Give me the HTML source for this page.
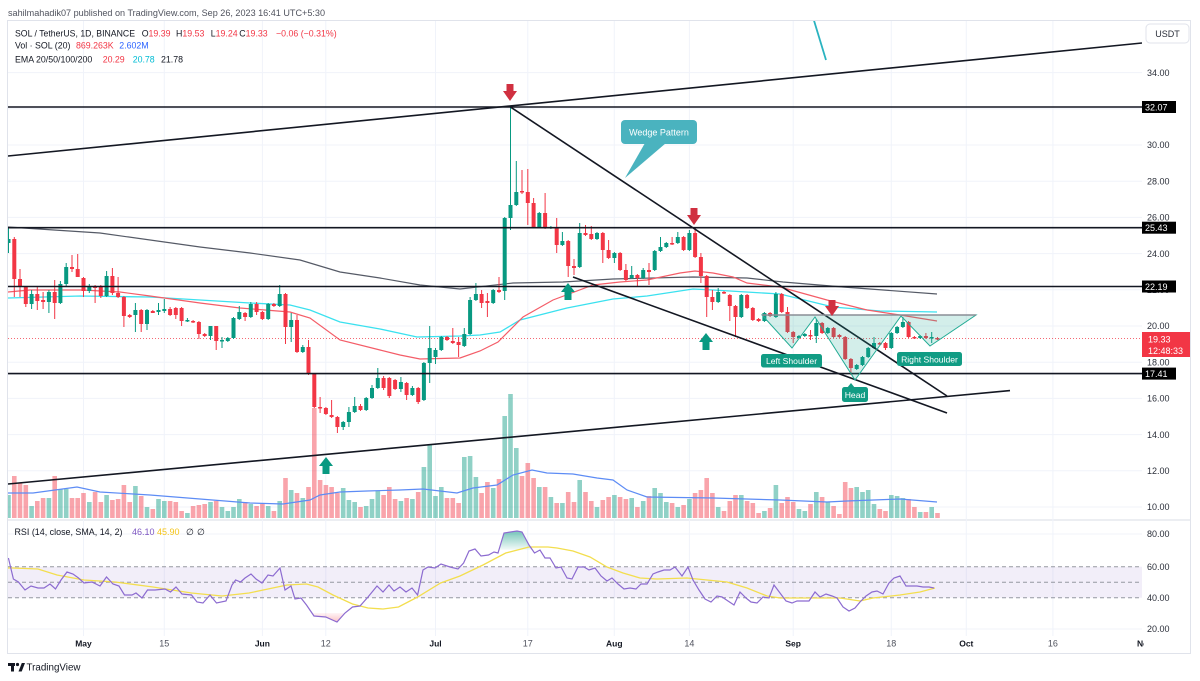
<!DOCTYPE html>
<html><head><meta charset="utf-8">
<style>
html,body{margin:0;padding:0;background:#fff;}
body{width:1200px;height:681px;overflow:hidden;}
svg{display:block;font-family:"Liberation Sans",Arial,sans-serif;}
</style></head>
<body>
<svg width="1200" height="681" viewBox="0 0 1200 681" xmlns="http://www.w3.org/2000/svg">
<defs>
<clipPath id="pc"><rect x="8" y="21" width="1134" height="498"/></clipPath>
<clipPath id="rc"><rect x="8" y="521" width="1134" height="115"/></clipPath>
<clipPath id="tc"><rect x="8" y="636" width="1136" height="17"/></clipPath>
<linearGradient id="gg" x1="0" y1="0" x2="0" y2="1"><stop offset="0" stop-color="#089981" stop-opacity=".55"/><stop offset="1" stop-color="#089981" stop-opacity=".05"/></linearGradient>
<linearGradient id="rg" x1="0" y1="0" x2="0" y2="1"><stop offset="0" stop-color="#f23645" stop-opacity=".05"/><stop offset="1" stop-color="#f23645" stop-opacity=".3"/></linearGradient>
</defs>
<rect width="1200" height="681" fill="#fff"/>

<text x="8" y="16" font-size="9.2" fill="#50535e" textLength="317" lengthAdjust="spacingAndGlyphs">sahilmahadik07 published on TradingView.com, Sep 26, 2023 16:41 UTC+5:30</text>

<rect x="7.5" y="20.5" width="1183" height="633" fill="#fff" stroke="#e0e3eb" stroke-width="1"/>
<line x1="8" y1="520" x2="1190" y2="520" stroke="#e0e3eb" stroke-width="1.2"/>

<g stroke="#f0f3fa" stroke-width="1">
<line x1="83.5" y1="21" x2="83.5" y2="636"/><line x1="164.3" y1="21" x2="164.3" y2="636"/>
<line x1="262.4" y1="21" x2="262.4" y2="636"/><line x1="325.8" y1="21" x2="325.8" y2="636"/>
<line x1="435.5" y1="21" x2="435.5" y2="636"/><line x1="527.8" y1="21" x2="527.8" y2="636"/>
<line x1="614.3" y1="21" x2="614.3" y2="636"/><line x1="689.4" y1="21" x2="689.4" y2="636"/>
<line x1="793.2" y1="21" x2="793.2" y2="636"/><line x1="891.3" y1="21" x2="891.3" y2="636"/>
<line x1="966.3" y1="21" x2="966.3" y2="636"/><line x1="1052.9" y1="21" x2="1052.9" y2="636"/>
<line x1="8" y1="72.6" x2="1142" y2="72.6"/><line x1="8" y1="108.8" x2="1142" y2="108.8"/>
<line x1="8" y1="145" x2="1142" y2="145"/><line x1="8" y1="181.2" x2="1142" y2="181.2"/>
<line x1="8" y1="217.4" x2="1142" y2="217.4"/><line x1="8" y1="253.6" x2="1142" y2="253.6"/>
<line x1="8" y1="289.8" x2="1142" y2="289.8"/><line x1="8" y1="326" x2="1142" y2="326"/>
<line x1="8" y1="362.2" x2="1142" y2="362.2"/><line x1="8" y1="398.4" x2="1142" y2="398.4"/>
<line x1="8" y1="434.6" x2="1142" y2="434.6"/><line x1="8" y1="470.8" x2="1142" y2="470.8"/>
<line x1="8" y1="507" x2="1142" y2="507"/>
<line x1="8" y1="534" x2="1142" y2="534"/><line x1="8" y1="629" x2="1142" y2="629"/>
</g>

<g clip-path="url(#pc)">
<!-- volume -->
<path fill="none" stroke="rgba(8,153,129,0.45)" stroke-width="4.6" d="M8.5 495V518M31.6 506V518M48.9 498V518M60.4 489V518M66.2 489V518M89.3 502V518M106.6 495V518M135.4 486V518M147 507V518M158.5 499V518M164.3 501V518M187.4 513V518M210.5 502V518M222 507V518M227.8 511V518M233.5 507V518M239.3 499V518M250.8 504V518M268.2 506V518M279.7 501V518M291.2 490V518M302.8 498V518M343.2 488V518M348.9 500V518M354.7 502V518M366.2 506V518M372 499V518M377.8 491V518M400.9 501V518M412.4 499V518M423.9 467V518M429.7 445V518M435.5 496V518M441.3 487V518M464.3 457V518M470.1 456V518M475.9 477V518M493.2 488V518M504.7 416V518M510.5 394V518M516.3 448V518M539.3 487V518M550.9 497V518M562.4 503V518M579.7 480V518M597 507V518M614.4 495V518M631.7 498V518M643.2 501V518M654.7 488V518M660.5 493V518M666.3 502V518M677.8 507V518M689.4 499V518M718.2 507V518M741.3 495V518M764.4 511V518M775.9 485V518M799 509V518M804.8 511V518M816.3 492V518M827.8 502V518M856.7 487V518M862.5 492V518M868.2 490V518M874 504V518M891.3 495V518M897.1 496V518M902.9 498V518M920.2 512V518M931.7 507V518"/>
<path fill="none" stroke="rgba(242,54,69,0.45)" stroke-width="4.6" d="M14.3 476V518M20 483V518M25.8 485V518M37.3 501V518M43.1 498V518M54.7 476V518M72 498V518M77.7 498V518M83.5 493V518M95.1 492V518M100.8 502V518M112.4 500V518M118.1 499V518M123.9 485V518M129.7 502V518M141.2 496V518M152.8 509V518M170.1 501V518M175.8 502V518M181.6 511V518M193.1 506V518M198.9 505V518M204.7 504V518M216.2 501V518M245.1 502V518M256.6 506V518M262.4 504V518M273.9 511V518M285.5 478V518M297 493V518M308.5 487V518M314.3 408V518M320.1 480V518M325.9 485V518M331.6 487V518M337.4 493V518M360.5 507V518M383.6 495V518M389.3 487V518M395.1 499V518M406.6 498V518M418.2 492V518M447 498V518M452.8 498V518M458.6 503V518M481.6 493V518M487.4 482V518M499 479V518M522 476V518M527.8 463V518M533.6 478V518M545.1 487V518M556.7 503V518M568.2 492V518M574 502V518M585.5 492V518M591.3 501V518M602.8 500V518M608.6 497V518M620.1 497V518M625.9 499V518M637.4 507V518M649 496V518M672.1 503V518M683.6 505V518M695.1 493V518M700.9 490V518M706.7 478V518M712.4 493V518M724 511V518M729.8 501V518M735.5 495V518M747.1 501V518M752.8 503V518M758.6 513V518M770.1 508V518M781.7 503V518M787.5 497V518M793.2 502V518M810.5 504V518M822.1 497V518M833.6 506V518M839.4 514V518M845.2 482V518M850.9 488V518M879.8 509V518M885.5 511V518M908.6 499V518M914.4 507V518M925.9 512V518M937.5 513V518"/>
<polyline fill="none" stroke="#5d8cf5" stroke-width="1.2" points="8,493 33,493 77,487 100,492 150,495 200,499 250,503 283,504 310,500 320,495 340,492 367,491 400,490 423,489 457,493 473,488 497,485 513,475 532,470 547,473 573,474 597,478 613,480 627,490 647,497 713,498 780,500 827,502 847,501 900,499 937,502"/>
<!-- EMAs -->
<polyline fill="none" stroke="#555a66" stroke-width="1.2" points="8,227 100,233 200,247 250,253 300,260 340,272 380,278 420,285 460,289 513,283 563,282 613,279 693,277 747,278 783,282 843,287 937,294"/>
<polyline fill="none" stroke="#3be1ef" stroke-width="1.3" points="8,298 80,296 150,297 250,303 290,305 310,310 340,322 380,329 417,337 460,336 480,335 500,332 520,320 567,308 613,299 647,296 693,289 713,290 780,294 833,307 880,311 937,312"/>
<polyline fill="none" stroke="#f45d68" stroke-width="1.2" points="8,292 30,290 82,290 120,292 150,296 200,303 240,308 290,312 310,318 340,340 380,350 400,355 420,359 460,358 480,351 498,342 523,317 553,300 593,285 620,282 647,280 680,273 695,271 713,273 733,277 747,283 780,287 827,300 867,310 900,315 937,321"/>
<line x1="8" y1="338.5" x2="1142" y2="338.5" stroke="#f23645" stroke-width="1" stroke-dasharray="1 2" opacity=".75"/>

<!-- candles: wicks -->
<path fill="none" stroke="#089981" stroke-width="1" d="M8.5 228V253M31.6 290V309M48.9 290V313M60.4 281V304M66.2 263V287M89.3 284V293M106.6 271V297M135.4 303V332M147 309V330M158.5 303V315M164.3 299V313M187.4 318V322M210.5 326V340M222 337V348M227.8 337V342M233.5 317V339M239.3 306V320M250.8 302V318M268.2 303V320M279.7 285V307M291.2 313V342M302.8 345V353M343.2 421V430M348.9 407V427M354.7 397V413M366.2 397V411M372 385V399M377.8 368V389M400.9 377V392M412.4 386V396M423.9 362V401M429.7 326V383M435.5 348V364M441.3 336V351M464.3 328V347M470.1 297V335M475.9 283V301M493.2 289V304M504.7 217V300M510.5 107V230M516.3 161V206M539.3 212V228M550.9 226V229M562.4 232V246M579.7 223V268M597 232V240M614.4 252V263M631.7 266V279M643.2 268V279M654.7 250V271M660.5 237V252M666.3 242V248M677.8 232V244M689.4 230V251M718.2 288V303M741.3 294V318M764.4 312V322M775.9 292V318M799 335V339M804.8 333V337M816.3 319V343M827.8 327V334M856.7 364V370M862.5 356V366M868.2 347V358M874 337V349M891.3 332V349M897.1 326V334M902.9 317V328M920.2 335V339M931.7 332V343"/>
<path fill="none" stroke="#f23645" stroke-width="1" d="M14.3 237V297M20 269V297M25.8 286V307M37.3 287V310M43.1 292V309M54.7 280V319M72 255V272M77.7 254V277M83.5 277V297M95.1 285V303M100.8 285V298M112.4 268V295M118.1 277V298M123.9 296V327M129.7 314V318M141.2 309V332M152.8 310V313M170.1 307V316M175.8 307V319M181.6 307V326M193.1 320V323M198.9 321V339M204.7 333V337M216.2 326V350M245.1 312V321M256.6 302V315M262.4 311V320M273.9 303V307M285.5 293V344M297 315V353M308.5 340V375M314.3 373V408M320.1 397V413M325.9 407V415M331.6 400V418M337.4 416V433M360.5 404V411M383.6 376V390M389.3 377V398M395.1 379V390M406.6 382V400M418.2 387V404M447 336V341M452.8 328V344M458.6 337V357M481.6 290V308M487.4 293V317M499 277V293M522 170V194M527.8 169V225M533.6 198V228M545.1 193V229M556.7 218V253M568.2 240V277M574 259V275M585.5 225V236M591.3 226V240M602.8 232V263M608.6 240V259M620.1 252V271M625.9 264V281M637.4 274V287M649 263V285M672.1 237V245M683.6 236V251M695.1 228V258M700.9 253V283M706.7 275V317M712.4 290V310M724 291V294M729.8 294V321M735.5 305V337M747.1 294V309M752.8 307V321M758.6 318V322M770.1 312V317M781.7 293V313M787.5 307V333M793.2 331V343M810.5 330V340M822.1 322V334M833.6 327V338M839.4 334V338M845.2 336V360M850.9 358V375M879.8 342V345M885.5 342V350M908.6 321V338M914.4 336V339M925.9 333V339M937.5 337V340"/>
<!-- candles: bodies -->
<path fill="none" stroke="#089981" stroke-width="4" d="M8.5 239V243M31.6 294V304M48.9 292V302M60.4 284V303M66.2 267V284M89.3 286V291M106.6 276V296M135.4 310V315M147 310V324M158.5 310V312M164.3 309V311M187.4 320V321.5M210.5 326V336M222 340V341.5M227.8 338V341M233.5 318V338M239.3 312V319M250.8 304V317M268.2 304V319M279.7 294V306M291.2 320V327M302.8 347V352M343.2 422V427M348.9 412V422M354.7 406V412M366.2 398V410M372 388V398M377.8 378V388M400.9 382V389M412.4 388V395M423.9 363V400M429.7 348V363M435.5 350V357M441.3 337V350M464.3 334V346M470.1 300V334M475.9 294V300M493.2 290V303M504.7 218V291M510.5 205V218M516.3 192V205M539.3 213V227M550.9 227V228.5M562.4 241V245M579.7 233V267M597 233V239M614.4 253V258M631.7 275V278M643.2 270V278M654.7 251V270M660.5 247V251M666.3 243V247M677.8 237V243M689.4 233V250M718.2 292V302M741.3 295V317M764.4 313V321M775.9 294V317M799 336V338M804.8 334V336M816.3 323V336M827.8 328V333M856.7 365V369M862.5 357V365M868.2 348V357M874 343V348M891.3 333V348M897.1 327V333M902.9 322V327M920.2 336V338M931.7 337V338.5"/>
<path fill="none" stroke="#f23645" stroke-width="4" d="M14.3 239V279M20 279V286M25.8 287V304M37.3 294V301M43.1 300V302M54.7 292V303M72 267V269M77.7 269V277M83.5 278V291M95.1 286V288M100.8 287V296M112.4 276V293M118.1 293V297M123.9 297V316M129.7 315V317M141.2 310V324M152.8 311V313M170.1 309V315M175.8 308V315M181.6 308V321M193.1 321V322.5M198.9 322V334M204.7 334V336M216.2 326V341M245.1 313V317M256.6 304V312M262.4 312V319M273.9 304V306M285.5 294V327M297 320V352M308.5 347V374M314.3 374V407M320.1 407V408.5M325.9 408V414M331.6 415V417M337.4 417V427M360.5 406V410M383.6 378V388M389.3 378V396M395.1 380V389M406.6 383V395M418.2 388V402M447 337V340M452.8 341V343M458.6 342V345M481.6 294V303M487.4 301V303M499 290V292M522 191V192.5M527.8 192V203M533.6 203V227M545.1 213V228M556.7 227V245M568.2 241V266M574 266V268M585.5 233V235M591.3 234V239M602.8 233V250M608.6 250V258M620.1 253V270M625.9 270V280M637.4 275V278M649 270V272M672.1 243V244.5M683.6 237V250M695.1 233V257M700.9 257V276M706.7 276V297M712.4 297V302M724 292V293.5M729.8 295V306M735.5 306V317M747.1 295V308M752.8 308V320M758.6 319V321M770.1 313V316M781.7 294V312M787.5 312V332M793.2 332V337M810.5 335V336.5M822.1 323V333M833.6 328V337M839.4 335V337M845.2 337V359M850.9 359V368M879.8 343V344.5M885.5 343V348M908.6 322V337M914.4 337V338.5M925.9 336V338M937.5 338V339.5"/>

<g stroke="#131722" stroke-width="1.6">
<line x1="8" y1="107" x2="1142" y2="107"/>
<line x1="8" y1="227.7" x2="1142" y2="227.7"/>
<line x1="8" y1="286.5" x2="1142" y2="286.5"/>
<line x1="8" y1="373.6" x2="1142" y2="373.6"/>
<line x1="8" y1="156" x2="1142" y2="43"/>
<line x1="8" y1="484" x2="1010" y2="390.6"/>
<line x1="510" y1="106.7" x2="947" y2="396"/>
<line x1="573" y1="277" x2="947" y2="413"/>
</g>

<path d="M762,315 L792,348 L815,317 L855,380 L901,316 L930,346 L976,315 Z" fill="rgba(34,171,148,0.2)" stroke="#22ab94" stroke-width="1"/>
<line x1="762" y1="315" x2="976" y2="315" stroke="#8a8d96" stroke-width="1.4"/>

<line x1="812" y1="14" x2="826" y2="60" stroke="#2ab3c0" stroke-width="1.8"/>

<g fill="#d03040">
<rect x="506.5" y="84" width="7" height="8"/><polygon points="503,91 517,91 510,101"/>
<rect x="690.5" y="208" width="7" height="8"/><polygon points="687,215 701,215 694,225"/>
<rect x="828.5" y="300" width="7" height="7"/><polygon points="825,306 839,306 832,316"/>
</g>
<g fill="#089981">
<polygon points="319,466 333,466 326,457"/><rect x="322.5" y="465" width="7" height="9"/>
<polygon points="561,292 575,292 568,283"/><rect x="564.5" y="291" width="7" height="9"/>
<polygon points="699,342 713,342 706,333"/><rect x="702.5" y="341" width="7" height="9"/>
</g>

<polygon points="645,143 666,143 625,178" fill="#4ab3bf"/>
<rect x="621" y="120" width="76" height="24" rx="4" fill="#4ab3bf"/>
<text x="659" y="135.5" font-size="9" fill="#fff" text-anchor="middle">Wedge Pattern</text>

<rect x="761" y="354" width="61" height="13.5" rx="2.5" fill="#119c84"/>
<text x="791.5" y="364" font-size="8.6" fill="#fff" text-anchor="middle">Left Shoulder</text>
<polygon points="847,388 851,383 855,388" fill="#119c84"/>
<rect x="842" y="387" width="26" height="15" rx="2.5" fill="#119c84"/>
<text x="855" y="398" font-size="8.6" fill="#fff" text-anchor="middle">Head</text>
<rect x="897" y="352" width="65" height="14" rx="2.5" fill="#119c84"/>
<text x="929.5" y="362.3" font-size="8.6" fill="#fff" text-anchor="middle">Right Shoulder</text>
</g>

<g font-size="8.8" fill="#131722">
<text x="15" y="36.3" textLength="120" lengthAdjust="spacingAndGlyphs">SOL / TetherUS, 1D, BINANCE</text>
<text x="141.7" y="36.3">O<tspan fill="#f23645">19.39</tspan></text>
<text x="176" y="36.3">H<tspan fill="#f23645">19.53</tspan></text>
<text x="210.7" y="36.3">L<tspan fill="#f23645">19.24</tspan></text>
<text x="239.3" y="36.3">C<tspan fill="#f23645">19.33</tspan></text>
<text x="276" y="36.3" fill="#f23645">−0.06 (−0.31%)</text>
<text x="15" y="48.3">Vol · SOL (20)</text>
<text x="76" y="48.3" fill="#f23645">869.263K</text>
<text x="119.3" y="48.3" fill="#2962ff">2.602M</text>
<text x="15" y="62.3">EMA 20/50/100/200</text>
<text x="102.7" y="62.3" fill="#f23645">20.29</text>
<text x="132.7" y="62.3" fill="#00bcd4">20.78</text>
<text x="161" y="62.3">21.78</text>
</g>

<g clip-path="url(#rc)">
<rect x="8" y="566.7" width="1134" height="31" fill="rgba(126,87,194,0.1)"/>
<g stroke="#9598a1" stroke-width="1" stroke-dasharray="4 3">
<line x1="8" y1="566.7" x2="1142" y2="566.7"/>
<line x1="8" y1="582.2" x2="1142" y2="582.2"/>
<line x1="8" y1="597.7" x2="1142" y2="597.7"/>
</g>
<polygon points="499,549.8 504,533 517,531 522,532 529,545 532.3,549.8" fill="url(#gg)"/>
<polygon points="312,613 314,616 325.7,617 337,622 345,613" fill="url(#rg)"/>
<polyline fill="none" stroke="#f3de4e" stroke-width="1.3" points="8,568 13,568 38,569 57,575 84,580 115,582 153,587 191.5,593 222,596 249,593 268,589 287,585 306.5,584 318,587 333,595 352.5,604 368,608 383,609 398.5,607 417.6,597 440.6,583 460,576 483,565 505.7,553 529,547 548,547 557,548 573,551 590,557 607,567 623,573 640,578 657,579 687,578 707,580 727,582 747,588 767,596 780,598 807,598 840,598 860,601 873,598 900,595 920,592 935,588"/>
<polyline fill="none" stroke="#8c6bd0" stroke-width="1.2" points="8.4,558 13.4,579 18.4,582 25,590 31,586 38,588 44,588 50,584 55.5,589 61,580 67,572 73,574 78.5,578 84,583 92,582 100,586 106.5,577 113,584 119,586 124.5,595 132,595 136,593 142,598 147.5,590 155,590 165,589 170.5,592 176,587 182,594 191.5,595 197,602 203,603 210,595 216.5,603 226,601 232,585 235.6,580 240.6,582 245,578 251,574 256,579 262,583 268,575 273,576 280,568 285,590 291,586 295,599 301,598 306.5,605 314,616 325.7,617 337,622 345,613 352.5,607 360,606 368,597 377,586 383,592 389,585 394,591 400,587 406,592 412,588 417.6,595 423,570 428,567 435,568 441,564 450,567 458,569 463.6,563 469,551 475,549 481,556 488.5,555 494,552 498,553 504,533 517,531 522,532 529,545 534.5,553 540,550 545,558 550,558 556,568 561,567 567,578 572,579 578,567 584,567 589,570 595,568 601,576 607,581 612,578 618,584 624,589 630,588 636,589 641,584 647,584 653,574 658,572 664,570 670,570 675,567 682,576 688,567 693,580 699,590 705,599 711,602 717,596 722,597 728,601 734,605 740,592 746,598 751,602 757,603 763,597 769,598 774,585 780,593 786,601 792,603 797,601 803,601 809,601 815,592 820,597 826,594 832,596 837,598 843,607 849,611 855,608 860,602 866,596 872,592 877,591 883,594 889,583 894,578 900,576 906,586 912,586 917,586 923,587 929,587 934,588"/>
</g>
<g font-size="9">
<text x="14.5" y="535" fill="#131722" textLength="108" lengthAdjust="spacingAndGlyphs">RSI (14, close, SMA, 14, 2)</text>
<text x="132" y="535" fill="#7e57c2">46.10</text>
<text x="157" y="535" fill="#f5c518">45.90</text>
<text x="186" y="535" fill="#131722">∅</text>
<text x="197" y="535" fill="#131722">∅</text>
</g>

<g font-size="9" fill="#2a2e39">
<text x="1147" y="75.8">34.00</text>
<text x="1147" y="148.2">30.00</text>
<text x="1147" y="184.4">28.00</text>
<text x="1147" y="220.6">26.00</text>
<text x="1147" y="256.8">24.00</text>
<text x="1147" y="293">22.00</text>
<text x="1147" y="329.2">20.00</text>
<text x="1147" y="365.4">18.00</text>
<text x="1147" y="401.6">16.00</text>
<text x="1147" y="437.8">14.00</text>
<text x="1147" y="474">12.00</text>
<text x="1147" y="510.2">10.00</text>
<text x="1147" y="537.2">80.00</text>
<text x="1147" y="569.9">60.00</text>
<text x="1147" y="600.9">40.00</text>
<text x="1147" y="632.2">20.00</text>
</g>
<rect x="1146" y="24" width="43" height="19" rx="4" fill="#fff" stroke="#e0e3eb"/>
<text x="1167.5" y="37" font-size="9" fill="#2a2e39" text-anchor="middle">USDT</text>
<g font-size="9" fill="#fff">
<rect x="1142" y="101" width="34" height="12" fill="#000"/><text x="1145" y="110.3">32.07</text>
<rect x="1142" y="221.7" width="34" height="12" fill="#000"/><text x="1145" y="231">25.43</text>
<rect x="1142" y="280.5" width="34" height="12" fill="#000"/><text x="1145" y="289.8">22.19</text>
<rect x="1142" y="367.6" width="34" height="12" fill="#000"/><text x="1145" y="376.9">17.41</text>
<rect x="1142" y="332" width="48" height="25" fill="#f23645"/>
<text x="1148" y="342.5">19.33</text>
<text x="1148" y="354">12:48:33</text>
</g>

<g font-size="9" text-anchor="middle" clip-path="url(#tc)">
<text x="83.5" y="646.3" fill="#131722" font-weight="bold" font-size="8.5">May</text>
<text x="164.3" y="646.3" fill="#50535e">15</text>
<text x="262.4" y="646.3" fill="#131722" font-weight="bold" font-size="8.5">Jun</text>
<text x="325.8" y="646.3" fill="#50535e">12</text>
<text x="435.5" y="646.3" fill="#131722" font-weight="bold" font-size="8.5">Jul</text>
<text x="527.8" y="646.3" fill="#50535e">17</text>
<text x="614.3" y="646.3" fill="#131722" font-weight="bold" font-size="8.5">Aug</text>
<text x="689.4" y="646.3" fill="#50535e">14</text>
<text x="793.2" y="646.3" fill="#131722" font-weight="bold" font-size="8.5">Sep</text>
<text x="891.3" y="646.3" fill="#50535e">18</text>
<text x="966.3" y="646.3" fill="#131722" font-weight="bold" font-size="8.5">Oct</text>
<text x="1052.9" y="646.3" fill="#50535e">16</text>
<text x="1145" y="646.3" fill="#131722" font-weight="bold" font-size="8.5">Nov</text>
</g>

<g fill="#131722">
<rect x="8" y="663" width="7" height="3"/><rect x="11" y="663" width="3" height="8.5"/>
<circle cx="17.5" cy="664.5" r="1.6"/>
<polygon points="18.5,671.5 21.8,663 25,663 21.7,671.5"/>
</g>
<text x="26.5" y="670.5" font-size="9.8" fill="#131722" textLength="54" lengthAdjust="spacingAndGlyphs">TradingView</text>
</svg>
</body></html>
